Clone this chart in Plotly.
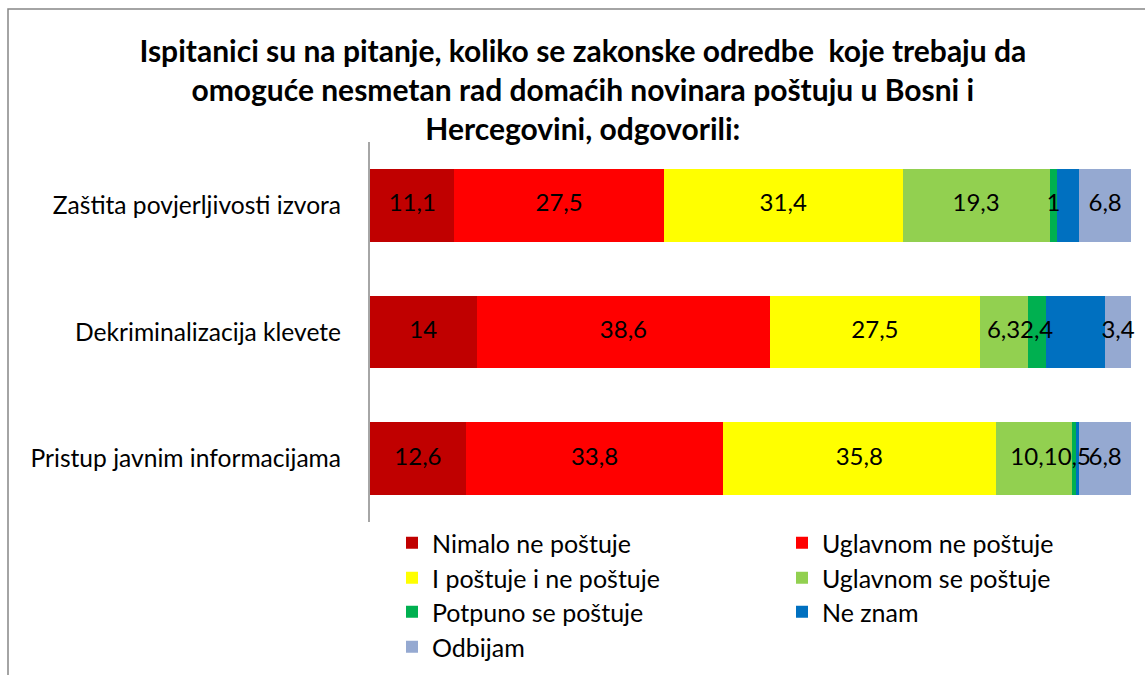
import plotly.graph_objects as go

categories = ["Zaštita povjerljivosti izvora", "Dekriminalizacija klevete", "Pristup javnim informacijama"]
series_names = ["Nimalo ne poštuje", "Uglavnom ne poštuje", "I poštuje i ne poštuje",
                "Uglavnom se poštuje", "Potpuno se poštuje", "Ne znam", "Odbijam"]
nimalo = [11.1, 14.0, 12.6]
uglavnom_ne = [27.5, 38.6, 33.8]
i_postuje = [31.4, 27.5, 35.8]
uglavnom_se = [19.3, 6.3, 10.1]
potpuno = [1.0, 2.4, 0.5]
ne_znam = [2.9, 7.8, 0.4]
odbijam = [6.8, 3.4, 6.8]
series_values = [nimalo, uglavnom_ne, i_postuje, uglavnom_se, potpuno, ne_znam, odbijam]
colors = ["#C00000", "#FF0000", "#FFFF00", "#92D050", "#00B050", "#0070C0", "#95A9D1"]
show_labels = [True, True, True, True, True, False, True]

title_text = ("Ispitanici su na pitanje, koliko se zakonske odredbe  koje trebaju da<br>"
              "omoguće nesmetan rad domaćih novinara poštuju u Bosni i<br>"
              "Hercegovini, odgovorili:")

FONT = "Lato"

def fmt(v):
    if abs(v - round(v)) < 1e-9:
        return str(int(round(v)))
    return ("%g" % v).replace(".", ",")

W, H = 1145, 675
L, R, T, B = 370, 14, 142, 153
plot_h = H - T - B

def py(p):
    return (H - B - p) / plot_h

def px(p):
    return (p - L) / (W - L - R)

# legend grid: 2 columns, 4 rows (pixel anchors)
leg_cols = [392, 782]
leg_rows = [543, 578, 612, 647]

fig = go.Figure()
legend_layouts = {}
for i, (name, vals, col) in enumerate(zip(series_names, series_values, colors)):
    lid = "legend" if i == 0 else "legend%d" % (i + 1)
    fig.add_trace(go.Bar(
        y=categories, x=vals, name=name, orientation="h",
        marker=dict(color=col, line=dict(width=0)),
        legend=lid,
        hoverinfo="x+name",
    ))
    legend_layouts[lid] = dict(
        x=px(leg_cols[i % 2]), y=py(leg_rows[i // 2]),
        xanchor="left", yanchor="middle", orientation="v",
        font=dict(family=FONT, size=25, color="black"),
        bgcolor="rgba(0,0,0,0)", itemclick=False, itemdoubleclick=False,
    )

# data labels drawn above all bars, centred in each segment
cum = [0.0] * len(categories)
for name, vals, lab in zip(series_names, series_values, show_labels):
    centers = [c + v / 2 for c, v in zip(cum, vals)]
    cum = [c + v for c, v in zip(cum, vals)]
    if not lab:
        continue
    fig.add_trace(go.Scatter(
        x=centers, y=categories, mode="text",
        text=[fmt(v) for v in vals], textposition="middle center",
        textfont=dict(family=FONT, size=24, color="black"),
        showlegend=False, hoverinfo="skip", cliponaxis=False,
    ))

fig.update_layout(
    width=W, height=H,
    margin=dict(l=L, r=R, t=T, b=B, autoexpand=False),
    barmode="stack", bargap=0.424,
    paper_bgcolor="white", plot_bgcolor="white",
    font=dict(family=FONT, size=24, color="black"),
    title=dict(text="<b>" + title_text + "</b>", x=0.509, xanchor="center",
               y=1 - 62 / H, yanchor="middle",
               font=dict(family=FONT, size=30, color="black")),
    xaxis=dict(range=[0, 100], showgrid=False, zeroline=False, showticklabels=False,
               showline=False, ticks=""),
    yaxis=dict(categoryorder="array", categoryarray=categories[::-1],
               showline=True, linecolor="#A6A6A6", linewidth=2,
               ticks="outside", ticklen=22, tickcolor="rgba(0,0,0,0)",
               tickfont=dict(family=FONT, size=24.6, color="black"),
               showgrid=False),
    shapes=[dict(type="rect", xref="paper", yref="paper",
                 x0=px(8), x1=px(1200), y0=py(720), y1=py(9),
                 line=dict(color="#868686", width=1.5), fillcolor="rgba(0,0,0,0)", layer="below")],
    showlegend=True,
    **legend_layouts,
)

fig.write_html("out.html", config={"displayModeBar": False},
               post_script="document.body.style.margin='0px';")
